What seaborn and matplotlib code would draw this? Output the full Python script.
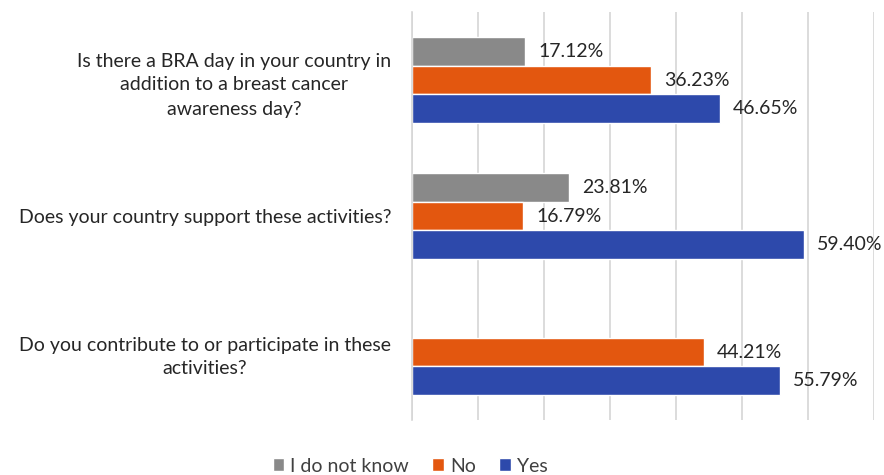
import numpy as np
import pandas as pd
import matplotlib.pyplot as plt
import seaborn as sns

# donnees
questions = [
    "Is there a BRA day in your country in\naddition to a breast cancer\nawareness day?",
    "Does your country support these activities?",
    "Do you contribute to or participate in these\nactivities?",
]
answers = ["I do not know", "No", "Yes"]
dont_know = [17.12, 23.81, np.nan]
no_vals = [36.23, 16.79, 44.21]
yes_vals = [46.65, 59.40, 55.79]
colors = ["#898989", "#e3570f", "#2d49ab"]

df = pd.DataFrame({
    "question": questions * 3,
    "answer": [a for a in answers for _ in questions],
    "value": dont_know + no_vals + yes_vals,
})

sns.set_theme(style="white")
plt.rcParams["font.family"] = ["Lato", "DejaVu Sans"]

fig = plt.figure(figsize=(8.84, 4.75), dpi=100)
ax = fig.add_axes([412 / 884, 1 - 420 / 475, 462 / 884, 408 / 475])

sns.barplot(data=df, y="question", x="value", hue="answer",
            hue_order=answers, order=questions, palette=colors,
            width=0.63, orient="h", ax=ax, saturation=1)

# etiquettes de valeur
for cont in ax.containers:
    labels = ["" if np.isnan(v) else f"{v:.2f}%" for v in cont.datavalues]
    ax.bar_label(cont, labels=labels, padding=9.5, fontsize=14, color="#262626")

ax.set_xlim(0, 70)
ax.set_xticks(np.arange(0, 71, 10))
ax.set_xticklabels([])
ax.tick_params(axis="x", length=0)
ax.tick_params(axis="y", length=0, pad=15)
ax.grid(axis="x", color="#d6d6d6", linewidth=1.2)
ax.set_axisbelow(True)
for lab in ax.get_yticklabels():
    lab.set_multialignment("center")
    lab.set_fontsize(14)
    lab.set_linespacing(1.5)
    lab.set_color("#262626")
ax.set_xlabel("")
ax.set_ylabel("")
for s in ["top", "right", "bottom"]:
    ax.spines[s].set_visible(False)
ax.spines["left"].set_color("#d6d6d6")
ax.spines["left"].set_linewidth(1.2)

handles, lbls = ax.get_legend_handles_labels()
ax.legend_.remove()
fig.legend(handles, lbls, loc="center", bbox_to_anchor=(410 / 884, 1 - 466 / 475),
           ncol=3, frameon=False, fontsize=14, handlelength=0.6, handleheight=0.6,
           handletextpad=0.3, columnspacing=1.2, labelcolor="#404040")

fig.savefig("out.png", dpi=100)
